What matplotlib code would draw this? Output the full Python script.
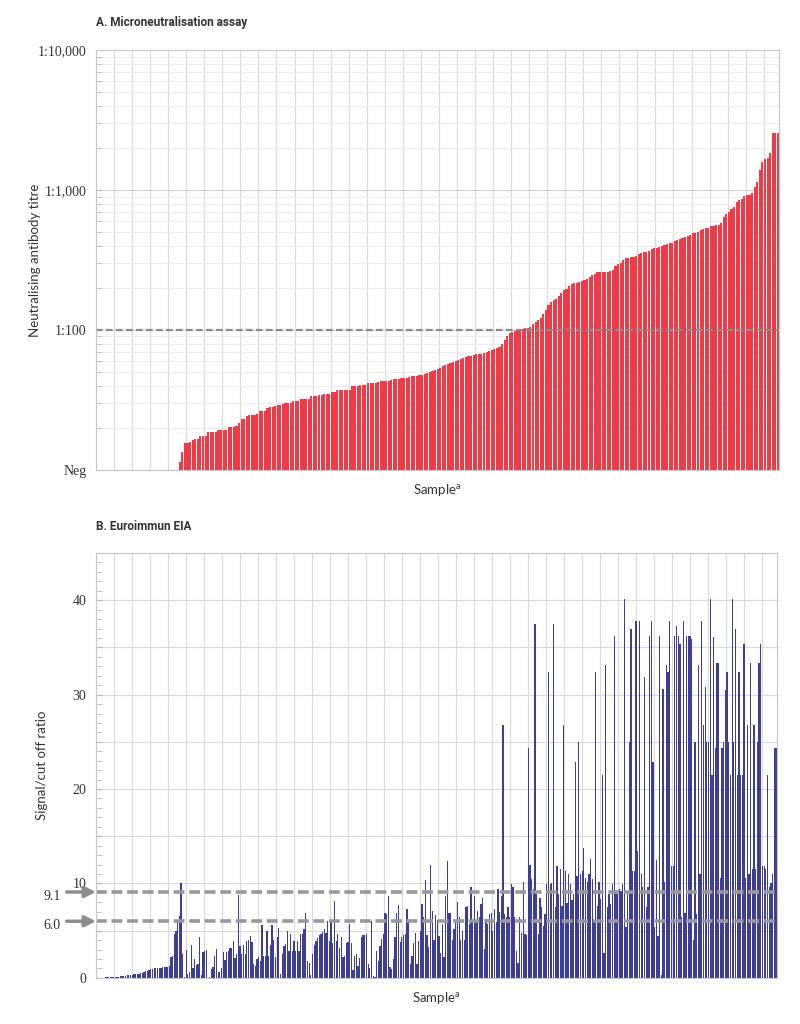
import matplotlib
matplotlib.use('Agg')
from matplotlib import pyplot as plt
import matplotlib.ticker as ticker
import numpy as np

# A. microneutralisation titres, sorted (0 = Neg)
titre = [0] * 32 + [
    11.5, 13.5,
    15.7, 15.7, 15.8, 16.5, 16.6, 16.6, 17.4, 17.5, 17.5,
    18.6, 18.7, 18.7, 18.8, 19.2, 19.3, 19.3, 19.4,
    20.2, 20.3, 20.3, 20.5, 21.7, 23.0, 23.1,
    24.5, 24.7, 24.7, 24.8, 25.0, 26.3, 26.4, 26.5,
    27.8, 28.0, 28.1, 28.9, 29.0, 29.1, 29.8, 30.0, 30.0, 30.2,
    31.0, 31.0, 31.2, 32.0, 32.0, 32.1, 32.3,
    33.8, 34.0, 34.0, 34.1, 34.3, 35.0, 35.0, 35.2, 36.0, 36.1,
    37.0, 37.0, 37.1, 37.2, 37.3, 37.5,
    39.8, 40.0, 40.0, 40.2, 40.3, 40.5,
    41.8, 42.0, 42.1, 42.2, 42.5, 43.0, 43.1, 43.3, 43.5, 43.8,
    44.5, 44.8, 45.0, 45.2, 45.5, 45.8,
    46.5, 46.8, 47.0, 47.2, 47.5, 48.0, 48.5,
    49.5, 50.2, 51.0, 51.5, 52.5, 53.5, 55.0, 56.0, 57.0,
    58.5, 59.5, 60.5, 61.5, 62.5, 63.5, 64.0, 65.0,
    65.5, 66.0, 67.0, 67.5, 68.0, 69.0, 70.0, 71.0,
    72.0, 73.5, 75.0, 76.0, 80.0, 85.0, 90.0,
    95.0, 97.0, 99.0, 100.0, 101.0, 102.0, 103.0, 104.0,
    106.0, 110.0, 115.0, 118.0, 122.0, 130.0, 139.0, 150.0, 158.0,
    164.0, 168.0, 175.0, 185.0, 193.0, 197.0, 205.0,
    212.0, 217.0, 218.0, 220.0, 224.0, 228.0, 232.0, 240.0, 247.0, 252.0,
    258.0, 259.0, 260.0, 261.0, 262.0, 264.0, 268.0, 285.0, 295.0, 301.0,
    318.0, 325.0, 330.0, 332.0, 335.0, 340.0,
    350.0, 355.0, 360.0, 362.0, 368.0, 378.0, 383.0, 385.0, 390.0, 398.0,
    405.0, 412.0, 418.0, 422.0, 430.0, 440.0, 448.0, 454.0, 460.0, 470.0,
    480.0, 490.0, 495.0, 505.0, 520.0, 530.0, 535.0, 540.0,
    550.0, 555.0, 562.0, 565.0, 580.0, 640.0, 680.0, 700.0, 730.0, 760.0,
    820.0, 849.0, 870.0, 910.0, 921.0, 930.0, 960.0, 1050.0, 1150.0,
    1389.0, 1600.0, 1665.0, 1700.0, 1837.0, 2550.0, 2550.0, 2550.0,
]

# B. Euroimmun EIA signal/cut off ratio
ratio = [
    # low end
    0.0, 0.0, 0.01, 0.02, 0.03, 0.05, 0.05, 0.06, 0.08, 0.1, 0.1,
    0.12, 0.15, 0.15, 0.18, 0.2, 0.22, 0.25, 0.28, 0.3, 0.32, 0.35,
    0.38, 0.4, 0.42, 0.45, 0.5, 0.55, 0.62, 0.7, 0.78, 0.85,
    0.9, 0.95, 1.0, 1.02, 1.05, 1.08, 1.1, 1.12, 1.15, 1.18,
    1.2, 1.25, 2.2, 2.3, 4.7, 5.0, 6.1, 6.6, 10.1,
    # lower middle
    2.5, 0.05, 3.0, 0.4, 0.6, 3.5, 1.1, 2.0, 1.4, 1.5, 4.3,
    0.35, 2.7, 2.9, 3.0, 0.0, 0.05, 0.9, 1.2, 2.3, 3.1,
    0.6, 0.65, 1.1, 2.7, 1.9, 2.7, 2.9, 3.2, 3.2, 3.9, 2.1,
    2.5, 8.8, 3.4, 2.5, 3.5, 2.5, 3.9, 4.0, 4.4, 3.8,
    1.5, 1.3, 2.0, 2.2, 1.8, 5.6, 2.35, 2.35, 5.0, 2.35,
    3.5, 5.6, 4.0, 2.2, 4.3, 5.3, 0.4, 2.5, 3.4, 3.6,
    5.0, 2.8, 4.6, 2.8, 3.9, 2.8, 3.9, 2.9, 4.6, 4.6,
    5.2, 6.9, 1.8, 1.6, 0.3, 2.5, 3.5, 3.9, 4.2, 4.5,
    4.6, 4.9, 5.2, 4.8, 6.0, 3.9, 5.9, 3.75, 8.1, 3.9, 4.6,
    3.2, 4.3, 2.2, 2.35, 3.75, 3.8, 5.7, 3.75, 0.8, 2.35,
    2.5, 1.3, 2.1, 4.3, 4.5, 4.5, 4.6, 1.5, 1.1, 6.0,
    0.25, 0.1, 2.9, 1.75, 3.4, 4.1, 4.6, 6.9, 6.8, 8.7, 1.2,
    0.95, 2.0, 4.3, 6.9, 7.7, 3.85, 4.3, 4.5, 4.7, 7.3,
    5.9, 1.5, 2.35, 3.75, 4.8, 1.5, 3.9, 5.0, 7.8, 6.5,
    10.4,
    # upper middle
    4.5, 3.3, 12.0, 7.1, 4.0, 6.7, 6.1, 4.4, 2.6, 5.7,
    2.2, 8.7, 12.4, 6.9, 6.9, 4.0, 5.2, 6.1, 8.0, 6.4,
    4.0, 5.0, 4.0, 7.5, 7.6, 5.7, 9.6, 6.1, 8.7, 6.1,
    7.1, 6.4, 7.8, 8.5, 3.1, 6.2, 5.7, 6.8, 6.9, 5.0,
    7.3, 5.9, 9.4, 7.0, 8.7, 26.8, 6.8, 6.4, 7.5, 6.4, 9.9,
    9.6, 6.4, 2.9, 1.6, 6.4, 4.8, 10.2, 4.7, 4.5, 24.3,
    12.0, 10.5, 9.4, 37.5, 8.9, 4.7, 8.5, 7.5, 5.5, 6.8,
    9.9, 32.4, 9.9, 10.1, 37.5, 7.5, 11.9, 8.9, 11.5, 7.6,
    26.8, 11.3, 7.9, 11.0, 9.9, 8.2, 8.9, 22.9, 10.8,
    25.0, 11.0, 11.3, 13.8, 10.6, 10.2, 11.0, 12.6, 10.5, 5.9,
    32.4, 7.6, 10.2, 8.4, 21.5, 2.6, 33.1, 7.5, 8.9, 7.8,
    9.9, 36.2, 9.2, 8.9, 9.4, 9.2, 9.9, 40.1, 5.4,
    # high end
    9.2, 25.0, 37.0, 11.3, 11.3, 37.8, 13.4, 37.8, 11.0, 9.6,
    31.9, 7.5, 9.6, 36.2, 37.8, 22.9, 5.4, 12.5,
    4.4, 36.2, 0.3, 30.6, 10.2, 33.1, 32.4, 37.8, 11.9, 11.9,
    36.2, 37.3, 36.2, 35.4, 6.4, 37.8, 6.9, 36.2, 36.2, 36.2,
    35.9, 4.0, 25.0, 6.8, 33.1, 11.0, 37.8, 26.8, 30.8, 25.0,
    25.0, 40.1, 21.5, 36.1, 24.3, 33.4, 33.4, 10.6, 24.3, 25.0,
    30.5, 32.4, 25.0, 21.5, 40.1, 25.0, 37.0, 21.5, 32.4, 21.5,
    21.5, 35.4, 10.6, 26.8, 11.0, 33.4, 11.5, 26.8, 11.5, 25.0,
    33.4, 35.4, 11.9, 11.8, 11.5, 21.5, 9.6, 10.1, 11.0, 24.3,
    24.3,
]

titre_ticks = [10, 100, 1000, 10000]
titre_labels = ['Neg', '1:100', '1:1,000', '1:10,000']
ratio_ticks = [0, 10, 20, 30, 40]
cutoffs = [9.1, 6.0]

RED = '#EE3B47'
BLUE = '#3E3E96'
GRID = '#DADADA'
TXT = '#333333'
SERIF = 'Liberation Serif'


def style_axis(ax, n, step):
    ax.set_xlim(-0.5, n - 0.5)
    ax.set_xticks(np.arange(-0.5, n, step))
    ax.set_xticklabels([])
    ax.tick_params(axis='x', length=0)
    ax.tick_params(axis='y', which='both', direction='in', length=4,
                   color='#BBBBBB', labelsize=10, labelcolor=TXT, pad=7)
    for lab in ax.get_yticklabels():
        lab.set_family(SERIF)
    ax.grid(True, axis='x', color=GRID, lw=0.8)
    ax.set_axisbelow(True)
    for s in ax.spines.values():
        s.set_color('#C8C8C8')
        s.set_linewidth(0.8)


def main():
    fig = plt.figure(figsize=(8, 10.24), dpi=100)

    # ---- A ----
    axA = fig.add_axes([0.12, 0.541, 0.854, 0.41])
    n = len(titre)
    x = np.arange(n)
    vals = np.maximum(np.array(titre, dtype=float), 10)
    axA.bar(x, vals - 10, bottom=10, width=0.82, color=RED, linewidth=0)
    axA.set_yscale('log')
    axA.set_ylim(10, 10000)
    axA.yaxis.set_major_locator(ticker.FixedLocator(titre_ticks))
    axA.yaxis.set_major_formatter(ticker.FixedFormatter(titre_labels))
    axA.yaxis.set_minor_locator(ticker.LogLocator(base=10, subs=range(2, 10)))
    axA.yaxis.set_minor_formatter(ticker.NullFormatter())
    axA.grid(True, axis='y', which='major', color='#D2D2D2', lw=0.8)
    axA.grid(True, axis='y', which='minor', color='#EDEDED', lw=0.7)
    style_axis(axA, n, 7)
    axA.axhline(100, color='#8C8C8C', lw=1.6, dashes=(3, 1.5))
    axA.set_ylabel('Neutralising antibody titre', fontsize=9.5, color=TXT,
                   family='Lato')
    axA.yaxis.set_label_coords(-0.08, 0.5)
    axA.text(0.5, -0.028, 'Sample$^\\mathregular{a}$', transform=axA.transAxes,
             ha='center', va='top', fontsize=9.5, color=TXT, family='Lato')
    fig.text(0.12, 0.9785, 'A. Microneutralisation assay', fontsize=8.5,
             weight='bold', color=TXT, va='center', family='Roboto')

    # ---- B ----
    axB = fig.add_axes([0.12, 0.045, 0.851, 0.415])
    nb = len(ratio)
    xb = np.arange(nb)
    axB.bar(xb, ratio, width=0.75, color=BLUE, linewidth=0)
    axB.set_ylim(0, 45)
    axB.yaxis.set_major_locator(ticker.MultipleLocator(5))
    axB.yaxis.set_major_formatter(ticker.FuncFormatter(
        lambda v, p: '%d' % v if round(v) in ratio_ticks else ''))
    axB.yaxis.set_minor_locator(ticker.MultipleLocator(1))
    axB.grid(True, axis='y', which='major', color=GRID, lw=0.8)
    style_axis(axB, nb, nb / 37.8)
    for c in cutoffs:
        axB.axhline(c, color='#999999', lw=2.6, dashes=(3, 1.3))
        axB.annotate('', xy=(0.0, c), xycoords=('axes fraction', 'data'),
                     xytext=(-0.043, c), textcoords=('axes fraction', 'data'),
                     annotation_clip=False,
                     arrowprops=dict(arrowstyle='-|>', color='#8C8C8C', lw=2.5,
                                     mutation_scale=16, shrinkA=0, shrinkB=0))
        axB.text(-0.052, c - 0.5, '%.1f' % c, transform=axB.get_yaxis_transform(),
                 ha='right', va='center', fontsize=10, color=TXT, family=SERIF)
    axB.set_ylabel('Signal/cut off ratio', fontsize=9.5, color=TXT,
                   family='Lato')
    axB.yaxis.set_label_coords(-0.07, 0.5)
    axB.text(0.5, -0.028, 'Sample$^\\mathregular{a}$', transform=axB.transAxes,
             ha='center', va='top', fontsize=9.5, color=TXT, family='Lato')
    fig.text(0.12, 0.4854, 'B. Euroimmun EIA', fontsize=8.5,
             weight='bold', color=TXT, va='center', family='Roboto')

    fig.savefig('out.png', dpi=100)


if __name__ == "__main__":
    main()
